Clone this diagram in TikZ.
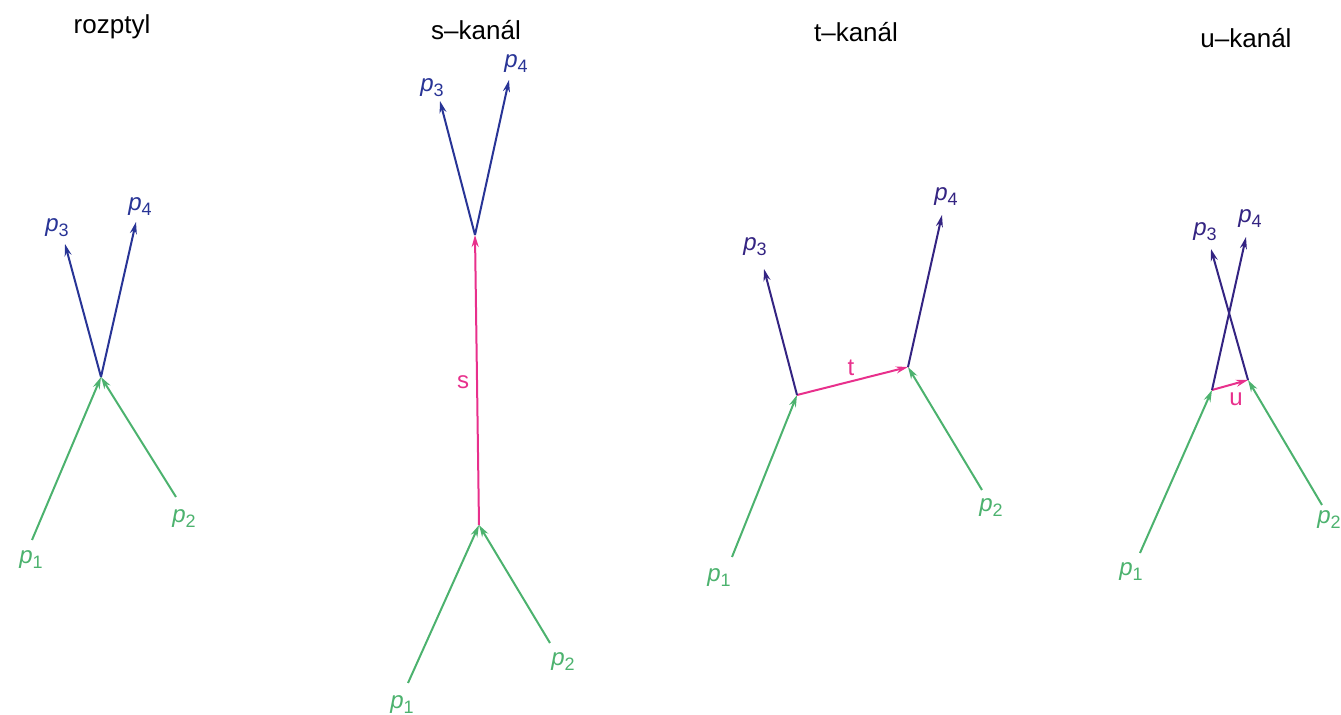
\documentclass[tikz,border=0pt]{standalone}
\usepackage{fontspec}
\setmainfont{Liberation Sans}
\usetikzlibrary{arrows.meta}
\definecolor{pgreen}{RGB}{76,178,110}
\definecolor{pblue}{RGB}{40,52,150}
\definecolor{ppurple}{RGB}{52,36,130}
\definecolor{ppink}{RGB}{232,48,140}
\tikzset{
  inarrow/.style={draw=pgreen,line width=1pt,-{Stealth[length=6pt,width=3.5pt]}},
  outarrow/.style={draw=pblue,line width=1pt,-{Stealth[length=6pt,width=3.5pt]}},
  outarrowp/.style={draw=ppurple,line width=1pt,-{Stealth[length=6pt,width=3.5pt]}},
  exarrow/.style={draw=ppink,line width=1pt,-{Stealth[length=6pt,width=3.5pt]}},
  inlab/.style={text=pgreen,font=\fontsize{12}{14}\selectfont,inner sep=0pt},
  outlab/.style={text=pblue,font=\fontsize{12}{14}\selectfont,inner sep=0pt},
  outlabp/.style={text=ppurple,font=\fontsize{12}{14}\selectfont,inner sep=0pt},
  exlab/.style={text=ppink,font=\fontsize{12}{14}\selectfont,inner sep=0pt},
  titlelab/.style={text=black,font=\fontsize{13}{15}\selectfont,inner sep=0pt},
}
\newcommand{\pp}[1]{\textit{p}\raisebox{-0.35ex}{\fontsize{9}{10}\selectfont #1}}
\begin{document}
\begin{tikzpicture}[x=0.5pt,y=-0.5pt]
\useasboundingbox (0,0) rectangle (1341,715);
% ---------- rozptyl ----------
\node[titlelab] (T1) at (112,27) {rozptyl};
\coordinate (A1) at (32,540);
\coordinate (A2) at (176,497);
\coordinate (V) at (101,377);
\coordinate (A3) at (65,244);
\coordinate (A4) at (136,222);
\draw[inarrow] (A1) -- (V);
\draw[inarrow] (A2) -- (V);
\draw[outarrow] (V) -- (A3);
\draw[outarrow] (V) -- (A4);
\node[inlab] (L1a) at (31,560) {\pp{1}};
\node[inlab] (L2a) at (184,519) {\pp{2}};
\node[outlab] (L3a) at (57,228) {\pp{3}};
\node[outlab] (L4a) at (140,207) {\pp{4}};
% ---------- s-kanal ----------
\node[titlelab] (T2) at (476,30) {s–kanál};
\coordinate (B1) at (408,683);
\coordinate (B2) at (550,643);
\coordinate (SL) at (479,525);
\coordinate (SU) at (475,235);
\coordinate (B3) at (440,101);
\coordinate (B4) at (509,80);
\draw[inarrow] (B1) -- (SL);
\draw[inarrow] (B2) -- (SL);
\draw[exarrow] (SL) -- (SU);
\draw[outarrow] (SU) -- (B3);
\draw[outarrow] (SU) -- (B4);
\node[exlab] (Ls) at (463,382) {s};
\node[inlab] (L1b) at (402,705) {\pp{1}};
\node[inlab] (L2b) at (563,662) {\pp{2}};
\node[outlab] (L3b) at (432,88) {\pp{3}};
\node[outlab] (L4b) at (516,64) {\pp{4}};
% ---------- t-kanal ----------
\node[titlelab] (T3) at (856,32) {t–kanál};
\coordinate (C1) at (732,557);
\coordinate (C2) at (982,490);
\coordinate (TL) at (797,395);
\coordinate (TR) at (908,367);
\coordinate (C3) at (764,269);
\coordinate (C4) at (942,215);
\draw[inarrow] (C1) -- (TL);
\draw[inarrow] (C2) -- (TR);
\draw[exarrow] (TL) -- (TR);
\draw[outarrowp] (TL) -- (C3);
\draw[outarrowp] (TR) -- (C4);
\node[exlab] (Lt) at (851,368) {t};
\node[inlab] (L1c) at (719,578) {\pp{1}};
\node[inlab] (L2c) at (991,508) {\pp{2}};
\node[outlabp] (L3c) at (755,247) {\pp{3}};
\node[outlabp] (L4c) at (946,197) {\pp{4}};
% ---------- u-kanal ----------
\node[titlelab] (T4) at (1246,38) {u–kanál};
\coordinate (D1) at (1140,553);
\coordinate (D2) at (1322,505);
\coordinate (UL) at (1212,390);
\coordinate (UR) at (1248,380);
\coordinate (D3) at (1211,249);
\coordinate (D4) at (1246,237);
\draw[inarrow] (D1) -- (UL);
\draw[inarrow] (D2) -- (UR);
\draw[exarrow] (UL) -- (UR);
\draw[outarrowp] (UR) -- (D3);
\draw[outarrowp] (UL) -- (D4);
\node[exlab] (Lu) at (1236,399) {u};
\node[inlab] (L1d) at (1131,572) {\pp{1}};
\node[inlab] (L2d) at (1329,520) {\pp{2}};
\node[outlabp] (L3d) at (1205,232) {\pp{3}};
\node[outlabp] (L4d) at (1250,219) {\pp{4}};
\end{tikzpicture}
\end{document}
